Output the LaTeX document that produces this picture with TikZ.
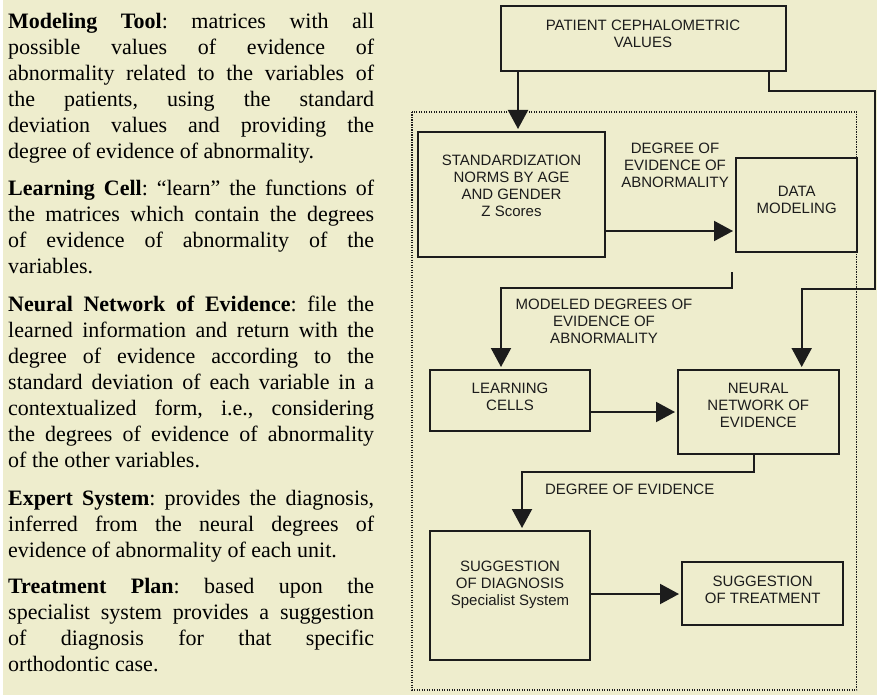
\documentclass[tikz,border=0pt]{standalone}
\usepackage{fontspec}
\setmainfont{Liberation Serif}
\newfontfamily\diagfont{Liberation Sans}
\usetikzlibrary{arrows.meta}
\definecolor{paper}{RGB}{238,237,205}
\definecolor{ink}{RGB}{28,28,28}
\begin{document}
\frenchspacing
\begin{tikzpicture}[x=1pt,y=-1pt,
  box/.style={draw=ink, line width=2pt, inner sep=0pt},
  boxtext/.style={font=\diagfont\fontsize{15}{17}\selectfont, text=ink, align=center, inner sep=0pt},
  flow/.style={draw=ink, line width=2pt, -{Triangle[length=19pt,width=20pt]}, shorten >=2pt},
  groupframe/.style={draw=ink, line width=1.4pt, dash pattern=on 1.3pt off 1.2pt},
  para/.style={anchor=base west, inner sep=0pt, font=\fontsize{22}{26}\selectfont, text=black},
]
\useasboundingbox (0,0) rectangle (877,695);
\fill[paper] (0,0) rectangle (877,695);
\fill[white] (0,0) rectangle (3,695);

% ---------- explanatory text ----------
\newcommand{\fullline}[1]{\makebox[366pt][s]{#1}}
\node[para] (a1) at (8,28.3)  {\fullline{\textbf{Modeling Tool}: matrices with all}};
\node[para] (a2) at (8,54.4)  {\fullline{possible values of evidence of}};
\node[para] (a3) at (8,80.5)  {\fullline{abnormality related to the variables of}};
\node[para] (a4) at (8,106.6) {\fullline{the patients, using the standard}};
\node[para] (a5) at (8,132.7) {\fullline{deviation values and providing the}};
\node[para] (a6) at (8,158.7) {degree of evidence of abnormality.};

\node[para] (b1) at (8,195)   {\fullline{\textbf{Learning Cell}: “learn” the functions of}};
\node[para] (b2) at (8,221)   {\fullline{the matrices which contain the degrees}};
\node[para] (b3) at (8,247)   {\fullline{of evidence of abnormality of the}};
\node[para] (b4) at (8,273)   {variables.};

\node[para] (c1) at (8,311.7) {\fullline{\textbf{Neural Network of Evidence}: file the}};
\node[para] (c2) at (8,337.7) {\fullline{learned information and return with the}};
\node[para] (c3) at (8,363.7) {\fullline{degree of evidence according to the}};
\node[para] (c4) at (8,389.7) {\fullline{standard deviation of each variable in a}};
\node[para] (c5) at (8,415.7) {\fullline{contextualized form, i.e., considering}};
\node[para] (c6) at (8,441.7) {\fullline{the degrees of evidence of abnormality}};
\node[para] (c7) at (8,467.7) {of the other variables.};

\node[para] (d1) at (8,505)   {\fullline{\textbf{Expert System}: provides the diagnosis,}};
\node[para] (d2) at (8,531.3) {\fullline{inferred from the neural degrees of}};
\node[para] (d3) at (8,557.3) {evidence of abnormality of each unit.};

\node[para] (e1) at (8,593)   {\fullline{\textbf{Treatment Plan}: based upon the}};
\node[para] (e2) at (8,619.3) {\fullline{specialist system provides a suggestion}};
\node[para] (e3) at (8,645.5) {\fullline{of diagnosis for that specific}};
\node[para] (e4) at (8,671.7) {orthodontic case.};

% ---------- processing group ----------
\draw[groupframe] (412,112) rectangle (856.7,690);

% ---------- boxes ----------
\node[box, minimum width=285pt, minimum height=65pt]  (top)    at (643.5,38.5) {};
\node[box, minimum width=187pt, minimum height=125pt] (std)    at (511.5,194.5) {};
\node[box, minimum width=121pt, minimum height=94pt]  (data)   at (796.5,205) {};
\node[box, minimum width=160pt, minimum height=61pt]  (learn)  at (510,400.5) {};
\node[box, minimum width=161pt, minimum height=84pt]  (neural) at (758.5,412) {};
\node[box, minimum width=160pt, minimum height=129pt] (diag)   at (510,595.5) {};
\node[box, minimum width=161pt, minimum height=63pt]  (treat)  at (762.5,593.5) {};

% ---------- box texts ----------
\node[boxtext] (topT)    at (643,33.7)    {PATIENT CEPHALOMETRIC\\VALUES};
\node[boxtext] (stdT)    at (511.5,185.5) {STANDARDIZATION\\NORMS BY AGE\\AND GENDER\\Z Scores};
\node[boxtext] (dataT)   at (796.7,200.3) {DATA\\MODELING};
\node[boxtext] (learnT)  at (510,397)     {LEARNING\\CELLS};
\node[boxtext] (neuralT) at (758.3,405.8) {NEURAL\\NETWORK OF\\EVIDENCE};
\node[boxtext] (diagT)   at (510,584.5)   {SUGGESTION\\OF DIAGNOSIS\\Specialist System};
\node[boxtext] (treatT)  at (762.7,590)   {SUGGESTION\\OF TREATMENT};

% ---------- connector labels ----------
\node[boxtext] (lab1) at (675,165.7) {DEGREE OF\\EVIDENCE OF\\ABNORMALITY};
\node[boxtext] (lab2) at (604,321)   {MODELED DEGREES OF\\EVIDENCE OF\\ABNORMALITY};
\node[boxtext] (lab3) at (629.7,489) {DEGREE OF EVIDENCE};

% ---------- connectors ----------
\draw[flow] ([xshift=18pt]top.south west) -- ([xshift=101pt]std.north west);

\coordinate (r1) at (875,90.7);
\coordinate (r2) at (875,289);
\draw[flow] ([xshift=-18pt]top.south east) |- (r1) -- (r2) -| ([xshift=124.7pt]neural.north west);

\draw[flow] ([yshift=-36.5pt]std.east) -- ([yshift=-36.5pt]std.east -| data.west);

\coordinate (m0) at (732,272);
\coordinate (m1) at (732,288);
\draw[flow] (m0) -- (m1) -| ([xshift=-9pt]learn.north);

\draw[flow] ([yshift=-11.5pt]learn.east) -- ([yshift=-11.5pt]learn.east -| neural.west);

\draw[flow] ([xshift=-4.5pt]neural.south) -- ++(0,17) -| ([xshift=12pt]diag.north);

\draw[flow] ([yshift=1.5pt]diag.east) -- ([yshift=1.5pt]diag.east -| treat.west);
\end{tikzpicture}
\end{document}
